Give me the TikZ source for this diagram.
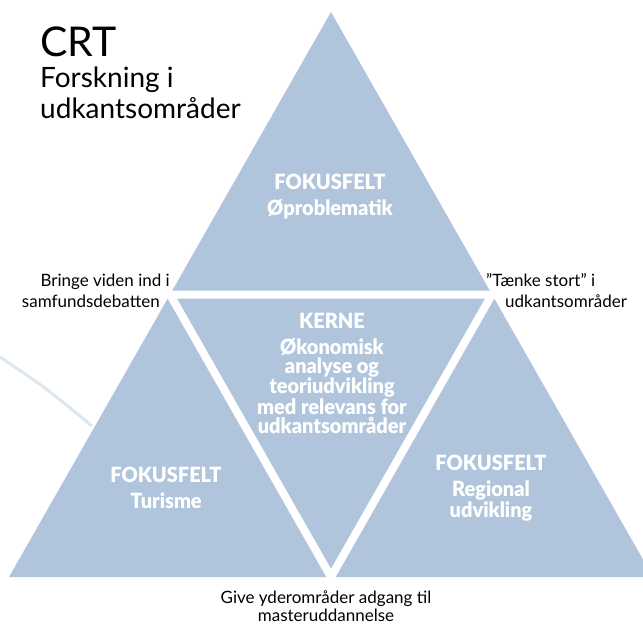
\documentclass[tikz,border=0pt]{standalone}
\usepackage{fontspec}
\setmainfont{Lato}
\newfontfamily\feltfont[FakeStretch=0.95]{Lato Black}
\usetikzlibrary{calc}
\definecolor{feltblue}{HTML}{B0C5DC}
\definecolor{lineblue}{HTML}{DCE7F0}
\tikzset{felt/.style={text=white,inner sep=0pt,align=center,anchor=base,font=\feltfont\fontsize{21}{19}\selectfont},
         side/.style={inner sep=0pt,font=\fontsize{17}{21}\selectfont}}
\begin{document}
\begin{tikzpicture}[x=1pt,y=-1pt]
                      \useasboundingbox(0,0)rectangle(643,626);
                      \clip(0,0)rectangle(643,626);
                      \coordinate(apex)at(331,12);
                      \coordinate(lft)at(9,577);
                      \coordinate(rgt)at(653,577);
                      \coordinate(ml)at($(apex)!0.5!(lft)$);
                      \coordinate(mr)at($(apex)!0.5!(rgt)$);
                      \coordinate(mb)at($(lft)!0.5!(rgt)$);
                      \coordinate(arc)at(0,357);
                      \coordinate(arcend)at(92,426);
                      \draw[lineblue,line width=3pt](arc)..controls(46,388)..(arcend);
                      \fill[feltblue](apex)--(lft)--(rgt)--cycle;
                      \draw[white,line width=8pt](ml)--(mr)--(mb)--cycle;
                      \node[anchor=base west,inner sep=0pt,font=\fontsize{41}{41}\selectfont](crt)at(40,57){CRT};
                      \node[anchor=base west,inner sep=0pt,align=left,font=\fontsize{28}{31}\selectfont](title)at(40,118){Forskning i\\udkantsområder};
                      \node[side,anchor=base east,align=right](debat)at(170,307){Bringe viden ind i\\samfundsdebatten\hspace*{10pt}};
                      \node[side,anchor=base west,align=left](stort)at(486,307){”Tænke stort” i\\\hspace*{19pt}udkantsområder};
                      \node[side,anchor=base,align=center,font=\fontsize{17}{18}\selectfont](master)at(326,621){Give yderområder adgang til\\masteruddannelse};
                      \node[felt](oe)at(330,215){FOKUSFELT\\[7pt]Øproblematik};
                      \node[felt](kerne)at(332,433){KERNE\\[7pt]Økonomisk\\analyse og\\teoriudvikling\\med relevans for\\udkantsområder};
                      \node[felt](turisme)at(166,508){FOKUSFELT\\[7pt]Turisme};
                      \node[felt](regional)at(491,517){FOKUSFELT\\[7pt]Regional\\udvikling};
                  \end{tikzpicture}
\end{document}
